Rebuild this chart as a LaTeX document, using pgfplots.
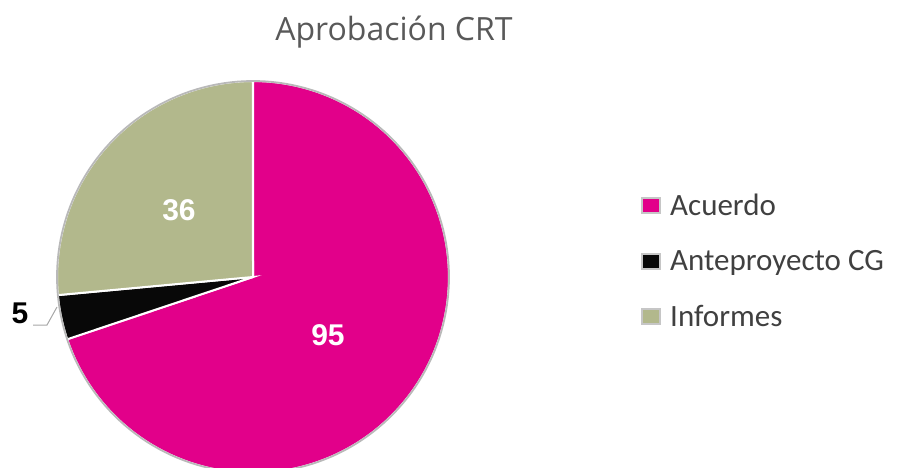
\documentclass[border=0pt]{standalone}
\usepackage{fontspec}
\setmainfont{Carlito}
\newfontfamily\titlefont{Open Sans}
\newfontfamily\labelfont{Liberation Sans}
\usepackage{pgfplots}
\usepackage{pgfplotstable}
\pgfplotsset{compat=1.18}
\definecolor{acuerdo}{RGB}{226,0,138}
\definecolor{antep}{RGB}{8,8,8}
\definecolor{informes}{RGB}{178,184,140}
\definecolor{titlegray}{RGB}{89,89,89}
\definecolor{legtext}{RGB}{64,64,64}

\pgfplotstableread{
label value
Acuerdo 95
Anteproyecto 5
Informes 36
}\piedata

\pgfplotstablegetelem{0}{value}\of\piedata \let\va\pgfplotsretval
\pgfplotstablegetelem{1}{value}\of\piedata \let\vb\pgfplotsretval
\pgfplotstablegetelem{2}{value}\of\piedata \let\vc\pgfplotsretval
\pgfmathsetmacro\tot{\va+\vb+\vc}
\pgfmathsetmacro\aS{90}
\pgfmathsetmacro\aE{90-(\va/\tot)*360}
\pgfmathsetmacro\bE{\aE-(\vb/\tot)*360}
\pgfmathsetmacro\cE{\bE-(\vc/\tot)*360}

\def\cx{253}\def\cy{190}\def\R{196}

\begin{document}
\begin{tikzpicture}
\begin{axis}[
  x=1pt, y=1pt, xmin=0, xmax=897, ymin=0, ymax=467,
  hide axis, clip=true,
  legend style={at={(axis cs:641,281)}, anchor=north west, draw=none, fill=none,
    font=\fontsize{31}{31}\selectfont\color{legtext},
    row sep=18.5pt, inner sep=0pt,
    nodes={inner sep=0pt, text height=22pt, text depth=8pt},
    /tikz/every odd column/.append style={column sep=9pt}},
  legend cell align=left,
  legend image code/.code={%
    \path[fill=none, draw=none] (0pt,-8pt) rectangle (20pt,22pt);
    \fill[gray!45, draw=none] (0pt,-6pt) rectangle (20pt,11pt);
    \fill[#1, draw=none] (2pt,-4pt) rectangle (18pt,9pt);},
]
\coordinate (SW) at (axis cs:0,0);
\coordinate (NE) at (axis cs:897,467);
% Acuerdo
\addplot[fill=acuerdo, draw=white, line width=2pt, domain=\aE:\aS, samples=120, variable=\t]
  ({\cx+\R*cos(t)},{\cy+\R*sin(t)}) -- (\cx,\cy) -- cycle;
\addlegendentry{Acuerdo}
% Anteproyecto CG
\addplot[fill=antep, draw=white, line width=2pt, domain=\bE:\aE, samples=20, variable=\t]
  ({\cx+\R*cos(t)},{\cy+\R*sin(t)}) -- (\cx,\cy) -- cycle;
\addlegendentry{Anteproyecto CG}
% Informes
\addplot[fill=informes, draw=white, line width=2pt, domain=\cE:\bE, samples=60, variable=\t]
  ({\cx+\R*cos(t)},{\cy+\R*sin(t)}) -- (\cx,\cy) -- cycle;
\addlegendentry{Informes}
% rim
\addplot[draw=gray!55, line width=1.8pt, domain=0:360, samples=180, variable=\t, forget plot]
  ({\cx+\R*cos(t)},{\cy+\R*sin(t)});

\node[font=\titlefont\fontsize{32}{32}\selectfont, text=titlegray, anchor=base] at (axis cs:394,426) {Aprobación CRT};
\node[font=\labelfont\bfseries\fontsize{30}{30}\selectfont, text=white] at (axis cs:179,257) {36};
\node[font=\labelfont\bfseries\fontsize{30}{30}\selectfont, text=white] at (axis cs:328,132) {95};
\node[font=\labelfont\bfseries\fontsize{30}{30}\selectfont, text=black] at (axis cs:20,154) {5};
\draw[gray!70, line width=1pt] (axis cs:33,142) -- (axis cs:47,142) -- (axis cs:57,160);
\end{axis}
\pgfresetboundingbox
\useasboundingbox (SW) rectangle (NE);
\end{tikzpicture}
\end{document}
